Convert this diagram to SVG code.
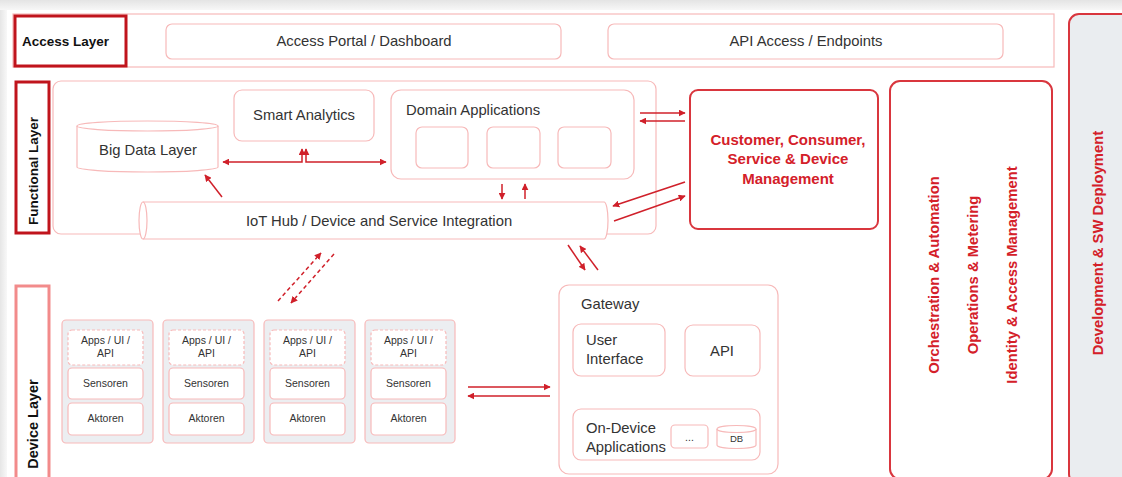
<svg xmlns="http://www.w3.org/2000/svg" width="1122" height="477" viewBox="0 0 1122 477">
<defs>
<linearGradient id="topShade" x1="0" y1="0" x2="0" y2="1">
<stop offset="0" stop-color="#e4e4e4"/><stop offset="1" stop-color="#f7f7f7"/>
</linearGradient>
<linearGradient id="leftShade" x1="0" y1="0" x2="1" y2="0">
<stop offset="0" stop-color="#e6e6e6"/><stop offset="1" stop-color="#f8f8f8"/>
</linearGradient>
<marker id="ah" viewBox="0 0 10 10" refX="9" refY="5" markerWidth="7" markerHeight="7" markerUnits="userSpaceOnUse" orient="auto-start-reverse">
<path d="M0,0 L10,5 L0,10 z" fill="#d0202a"/>
</marker>
</defs>
<style>
text{font-family:"Liberation Sans",Arial,sans-serif;fill:#333}
.lp{fill:#fff;stroke:#f7b9b9;stroke-width:1.2}
.lbl{fill:#fff;stroke:#c0141c;stroke-width:3}
.t14{font-size:14.8px}
.b13{font-size:13.5px;font-weight:bold;fill:#111}
.red{font-size:14.8px;font-weight:bold;fill:#d42029}
.sm{font-size:10.5px}
.card{fill:#eceef1;stroke:#f7b9b9;stroke-width:1.2}
.cin{fill:#fff;stroke:#f7b9b9;stroke-width:1.2}
.dash{fill:#fff;stroke:#f7b9b9;stroke-width:1.2;stroke-dasharray:3 2}
.conn{fill:none;stroke:#d0202a;stroke-width:1.5}
.dconn{fill:none;stroke:#d0202a;stroke-width:1.5;stroke-dasharray:4 3}
</style>
<rect x="0" y="0" width="1122" height="477" fill="#fff"/>
<rect x="0" y="0" width="1122" height="10" fill="url(#topShade)"/>
<rect x="0" y="10" width="7" height="467" fill="url(#leftShade)"/>

<g id="access-layer">
<rect class="lp" x="13" y="14" width="1041" height="53"/>
<rect class="lbl" x="15" y="16" width="111" height="50"/>
<text class="b13" x="22" y="46">Access Layer</text>
</g>
<g id="access-portal">
<rect class="lp" x="166" y="24" width="395" height="35" rx="6"/>
<text class="t14" x="364" y="46" text-anchor="middle">Access Portal / Dashboard</text>
</g>
<g id="api-access">
<rect class="lp" x="608" y="24" width="395" height="35" rx="6"/>
<text class="t14" x="806" y="46" text-anchor="middle">API Access / Endpoints</text>
</g>

<g id="functional-layer">
<rect class="lp" x="53" y="81" width="603" height="153" rx="8"/>
<rect class="lbl" x="16" y="82" width="33" height="151"/>
<text class="b13" transform="translate(38,171) rotate(-90)" text-anchor="middle">Functional Layer</text>
</g>
<g id="big-data">
<path class="lp" d="M77,126 A70.5,5 0 0 1 218,126 V167 A70.5,5 0 0 1 77,167 Z"/>
<path d="M77,126 A70.5,5 0 0 0 218,126" fill="none" stroke="#f7b9b9" stroke-width="1.2"/>
<text class="t14" x="148" y="155" text-anchor="middle">Big Data Layer</text>
</g>
<g id="smart-analytics">
<rect class="lp" x="234" y="90" width="140" height="51" rx="8"/>
<text class="t14" x="304" y="120" text-anchor="middle">Smart Analytics</text>
</g>
<g id="domain-apps">
<rect class="lp" x="391" y="90" width="243" height="89" rx="10"/>
<text class="t14" x="406" y="115">Domain Applications</text>
<rect class="lp" x="416" y="127" width="52" height="41" rx="6"/>
<rect class="lp" x="487" y="127" width="53" height="41" rx="6"/>
<rect class="lp" x="558" y="127" width="53" height="41" rx="6"/>
</g>
<g id="iot-hub">
<path class="lp" d="M143,202 H604 A4,18.5 0 0 1 604,239 H143 A4,18.5 0 0 1 143,202 Z"/>
<path d="M143,202 A4,18.5 0 0 1 143,239" fill="none" stroke="#f7b9b9" stroke-width="1.2"/>
<text class="t14" x="379" y="226" text-anchor="middle">IoT Hub / Device and Service Integration</text>
</g>
<g id="customer-mgmt">
<rect x="690" y="90" width="188" height="139" rx="8" fill="#fff" stroke="#d9363e" stroke-width="2"/>
<text class="red" x="788" y="145" text-anchor="middle" style="font-size:15px">Customer, Consumer,</text>
<text class="red" x="788" y="164" text-anchor="middle" style="font-size:15px">Service &amp; Device</text>
<text class="red" x="788" y="184" text-anchor="middle" style="font-size:15px">Management</text>
</g>
<g id="cross-cutting">
<rect x="890" y="81" width="162" height="398" rx="10" fill="#fff" stroke="#d9363e" stroke-width="2"/>
<text class="red" transform="translate(939,275) rotate(-90)" text-anchor="middle">Orchestration &amp; Automation</text>
<text class="red" transform="translate(978,275) rotate(-90)" text-anchor="middle">Operations &amp; Metering</text>
<text class="red" transform="translate(1017,275) rotate(-90)" text-anchor="middle">Identity &amp; Access Management</text>
</g>
<g id="dev-deployment">
<rect x="1069" y="14" width="70" height="470" rx="10" fill="#eaedf0" stroke="#d9363e" stroke-width="2"/>
<text class="red" transform="translate(1103,243) rotate(-90)" text-anchor="middle">Development &amp; SW Deployment</text>
</g>

<g id="device-layer">
<rect x="16" y="286" width="33" height="196" fill="#fff" stroke="#f28b8b" stroke-width="3"/>
<text class="b13" transform="translate(38,424) rotate(-90)" text-anchor="middle" style="font-size:14.5px">Device Layer</text>
</g>
<g id="device-1">
<rect class="card" x="62" y="320" width="91" height="123" rx="4"/>
<rect class="dash" x="68" y="330" width="75" height="35" rx="4"/>
<text class="sm" x="105.5" y="344" text-anchor="middle">Apps / UI /</text>
<text class="sm" x="105.5" y="357" text-anchor="middle">API</text>
<rect class="cin" x="68" y="368" width="75" height="31" rx="4"/>
<text class="sm" x="105.5" y="387" text-anchor="middle">Sensoren</text>
<rect class="cin" x="68" y="403" width="75" height="32" rx="4"/>
<text class="sm" x="105.5" y="422" text-anchor="middle">Aktoren</text>
</g>
<g id="device-2">
<rect class="card" x="163" y="320" width="91" height="123" rx="4"/>
<rect class="dash" x="169" y="330" width="75" height="35" rx="4"/>
<text class="sm" x="206.5" y="344" text-anchor="middle">Apps / UI /</text>
<text class="sm" x="206.5" y="357" text-anchor="middle">API</text>
<rect class="cin" x="169" y="368" width="75" height="31" rx="4"/>
<text class="sm" x="206.5" y="387" text-anchor="middle">Sensoren</text>
<rect class="cin" x="169" y="403" width="75" height="32" rx="4"/>
<text class="sm" x="206.5" y="422" text-anchor="middle">Aktoren</text>
</g>
<g id="device-3">
<rect class="card" x="264" y="320" width="91" height="123" rx="4"/>
<rect class="dash" x="270" y="330" width="75" height="35" rx="4"/>
<text class="sm" x="307.5" y="344" text-anchor="middle">Apps / UI /</text>
<text class="sm" x="307.5" y="357" text-anchor="middle">API</text>
<rect class="cin" x="270" y="368" width="75" height="31" rx="4"/>
<text class="sm" x="307.5" y="387" text-anchor="middle">Sensoren</text>
<rect class="cin" x="270" y="403" width="75" height="32" rx="4"/>
<text class="sm" x="307.5" y="422" text-anchor="middle">Aktoren</text>
</g>
<g id="device-4">
<rect class="card" x="365" y="320" width="90" height="123" rx="4"/>
<rect class="dash" x="371" y="330" width="75" height="35" rx="4"/>
<text class="sm" x="408.5" y="344" text-anchor="middle">Apps / UI /</text>
<text class="sm" x="408.5" y="357" text-anchor="middle">API</text>
<rect class="cin" x="371" y="368" width="75" height="31" rx="4"/>
<text class="sm" x="408.5" y="387" text-anchor="middle">Sensoren</text>
<rect class="cin" x="371" y="403" width="75" height="32" rx="4"/>
<text class="sm" x="408.5" y="422" text-anchor="middle">Aktoren</text>
</g>
<g id="gateway">
<rect class="lp" x="559" y="285" width="219" height="189" rx="10"/>
<text class="t14" x="581" y="309">Gateway</text>
<rect class="lp" x="573" y="324" width="92" height="52" rx="8"/>
<text class="t14" x="586" y="345">User</text>
<text class="t14" x="586" y="364">Interface</text>
<rect class="lp" x="685" y="325" width="75" height="51" rx="8"/>
<text class="t14" x="722" y="356" text-anchor="middle">API</text>
<rect class="lp" x="573" y="409" width="187" height="51" rx="8"/>
<text class="t14" x="586" y="433">On-Device</text>
<text class="t14" x="586" y="452">Applications</text>
<rect class="lp" x="671" y="425" width="37" height="23" rx="4"/>
<text class="sm" x="689.5" y="441" text-anchor="middle">...</text>
<path class="lp" d="M717,429 A19.5,3.5 0 0 1 756,429 V445 A19.5,3.5 0 0 1 717,445 Z"/>
<path d="M717,429 A19.5,3.5 0 0 0 756,429" fill="none" stroke="#f7b9b9" stroke-width="1.2"/>
<text class="sm" x="736.5" y="442" text-anchor="middle" style="font-size:9.5px">DB</text>
</g>

<g id="connectors">
<path class="conn" d="M302,149 V162 H223" marker-start="url(#ah)" marker-end="url(#ah)"/>
<path class="conn" d="M306,149 V162 H386" marker-start="url(#ah)" marker-end="url(#ah)"/>
<path class="conn" d="M222,197 L205,175" marker-end="url(#ah)"/>
<path class="conn" d="M502,184 V199" marker-end="url(#ah)"/>
<path class="conn" d="M525,199 V184" marker-end="url(#ah)"/>
<path class="conn" d="M640,113 H685" marker-end="url(#ah)"/>
<path class="conn" d="M685,121 H640" marker-end="url(#ah)"/>
<path class="conn" d="M685,182 L613,206" marker-end="url(#ah)"/>
<path class="conn" d="M614,221 L685,196" marker-end="url(#ah)"/>
<path class="conn" d="M568,245 L585,270" marker-end="url(#ah)"/>
<path class="conn" d="M598,270 L580,246" marker-end="url(#ah)"/>
<path class="dconn" d="M278,301 L321,253" marker-end="url(#ah)"/>
<path class="dconn" d="M334,254 L291,303" marker-end="url(#ah)"/>
<path class="conn" d="M468,387 H550" marker-end="url(#ah)"/>
<path class="conn" d="M550,396 H468" marker-end="url(#ah)"/>
</g>
</svg>
